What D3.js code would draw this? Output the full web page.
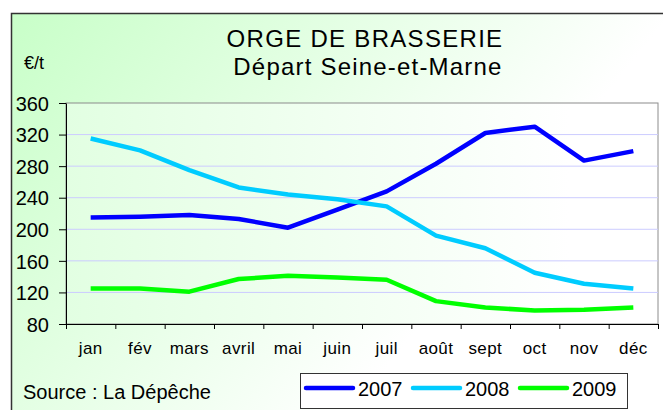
<!DOCTYPE html>
<html>
<head>
<meta charset="utf-8">
<script src="https://cdn.jsdelivr.net/npm/d3@7"></script>
<style>
  html, body { margin: 0; padding: 0; background: #ffffff; }
  svg { display: block; font-family: "Liberation Sans", Arial, sans-serif; }
</style>
</head>
<body>
<svg id="chart" width="663" height="410"></svg>
<script>
const months = ["jan", "fév", "mars", "avril", "mai", "juin", "juil", "août", "sept", "oct", "nov", "déc"];
const s2007 = [215, 216, 218, 213, 202, 225, 248, 283, 322, 330, 287, 299];
const s2008 = [315, 300, 275, 253, 244, 238, 229, 192, 176, 145, 131, 125];
const s2009 = [125, 125, 121, 137, 141, 139, 136, 109, 101, 97, 98, 101];
const yTicks = [80, 120, 160, 200, 240, 280, 320, 360];
const seriesNames = ["2007", "2008", "2009"];
const seriesColors = ["#0000ff", "#00ccff", "#00ff00"];
const titleText = "ORGE DE BRASSERIE";
const subtitleText = "Départ Seine-et-Marne";
const unitText = "€/t";
const sourceText = "Source : La Dépêche";

const svg = d3.select("#chart");
const defs = svg.append("defs");

const g1 = defs.append("linearGradient").attr("id", "bgGrad")
  .attr("x1", "0").attr("y1", "0").attr("x2", "1").attr("y2", "0.5");
g1.append("stop").attr("offset", "0").attr("stop-color", "#c8ffc8");
g1.append("stop").attr("offset", "0.8").attr("stop-color", "#ffffff");
g1.append("stop").attr("offset", "1").attr("stop-color", "#ffffff");

const g2 = defs.append("linearGradient").attr("id", "plotGrad")
  .attr("x1", "0").attr("y1", "0").attr("x2", "1").attr("y2", "0");
g2.append("stop").attr("offset", "0").attr("stop-color", "#e2ffe2");
g2.append("stop").attr("offset", "0.85").attr("stop-color", "#ffffff");
g2.append("stop").attr("offset", "1").attr("stop-color", "#ffffff");

// chart area
svg.append("rect").attr("x", 11.5).attr("y", 13.5).attr("width", 660).attr("height", 410)
  .attr("fill", "url(#bgGrad)").attr("stroke", "#333333").attr("stroke-width", 1.5);

const pLeft = 66, pRight = 658, pTop = 103, pBottom = 324;

const x = d3.scaleBand().domain(months).range([pLeft, pRight]);
const xEdge = d3.scaleLinear().domain([0, months.length]).range([pLeft, pRight]);
const y = d3.scaleLinear().domain([80, 360]).range([pBottom, pTop]);

// plot area
svg.append("rect").attr("x", pLeft).attr("y", pTop).attr("width", pRight - pLeft).attr("height", pBottom - pTop)
  .attr("fill", "url(#plotGrad)").attr("stroke", "#8c8c8c").attr("stroke-width", 1);

// grid
svg.append("g").selectAll("line").data(yTicks.filter(d => d !== 80 && d !== 360)).join("line")
  .attr("x1", pLeft).attr("x2", pRight)
  .attr("y1", d => y(d)).attr("y2", d => y(d))
  .attr("stroke", "#ccccff").attr("stroke-width", 1);

// y axis
const yAxis = svg.append("g").attr("transform", `translate(${pLeft},0)`)
  .call(d3.axisLeft(y).tickValues(yTicks).tickSize(7).tickPadding(10).tickSizeOuter(0));
yAxis.select(".domain").attr("stroke", "#000");
yAxis.selectAll("text").attr("font-size", 20).attr("fill", "#000").attr("dy", "0.36em")
  .attr("font-family", "Liberation Sans, Arial, sans-serif");

// x axis ticks at band edges
const xTickAxis = svg.append("g").attr("transform", `translate(0,${pBottom})`)
  .call(d3.axisBottom(xEdge).tickValues(d3.range(0, months.length + 1)).tickSize(5).tickSizeOuter(0).tickFormat(""));
xTickAxis.select(".domain").attr("stroke", "#000");

// x labels
const xLab = svg.append("g").attr("transform", `translate(0,${pBottom})`)
  .call(d3.axisBottom(x).tickSize(0).tickPadding(18));
xLab.select(".domain").remove();
xLab.selectAll("text").attr("font-size", 17).attr("fill", "#000").attr("letter-spacing", 0.4)
  .attr("font-family", "Liberation Sans, Arial, sans-serif");

// lines
const allSeries = [s2007, s2008, s2009];
const line = d3.line().x((d, i) => x(months[i]) + x.bandwidth() / 2).y(d => y(d));
svg.append("g").selectAll("path").data(allSeries).join("path")
  .attr("d", d => line(d))
  .attr("fill", "none")
  .attr("stroke", (d, i) => seriesColors[i])
  .attr("stroke-width", 4.5)
  .attr("stroke-linejoin", "round");

// titles
svg.append("text").attr("x", 365).attr("y", 47).attr("text-anchor", "middle")
  .attr("font-size", 24).attr("letter-spacing", 1.3).text(titleText);
svg.append("text").attr("x", 368).attr("y", 75).attr("text-anchor", "middle")
  .attr("font-size", 24).attr("letter-spacing", 1.2).text(subtitleText);
svg.append("text").attr("x", 24).attr("y", 69).attr("font-size", 18).text(unitText);
svg.append("text").attr("x", 23).attr("y", 399).attr("font-size", 20).text(sourceText);

// legend
const lg = svg.append("g");
lg.append("rect").attr("x", 300.5).attr("y", 373.5).attr("width", 327).attr("height", 35)
  .attr("fill", "#ffffff").attr("stroke", "#333333").attr("stroke-width", 1);
const legX = [306, 413, 520];
seriesNames.forEach((n, i) => {
  lg.append("line").attr("x1", legX[i]).attr("x2", legX[i] + 47).attr("y1", 388).attr("y2", 388)
    .attr("stroke", seriesColors[i]).attr("stroke-width", 4.5).attr("stroke-linecap", "round");
  lg.append("text").attr("x", legX[i] + 52).attr("y", 396).attr("font-size", 20).text(n);
});
</script>
</body>
</html>
